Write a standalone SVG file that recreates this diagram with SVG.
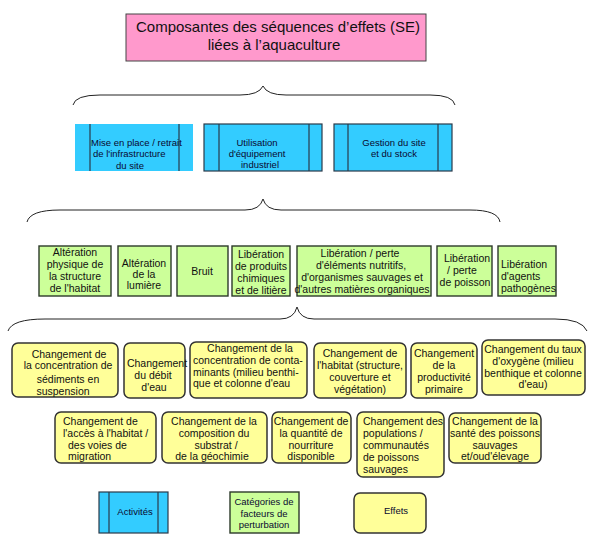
<svg xmlns="http://www.w3.org/2000/svg" width="590" height="541" viewBox="0 0 590 541">
<style>
text{font-family:"Liberation Sans",Arial,sans-serif;fill:#111}
.t{font-size:15px;text-anchor:middle}
.b{font-size:9.5px;fill:#0a0a30}
.g,.y{font-size:10.5px}
.m{text-anchor:middle}
.bb{fill:#33ccff;stroke:#2a3a4a;stroke-width:1.2}
.bl{stroke:#2a3a4a;stroke-width:1.2}
.gb{fill:#ccff99;stroke:#2d3a2a;stroke-width:1.4}
.yb{fill:#ffff99;stroke:#333;stroke-width:1.5}
.br{fill:none;stroke:#222;stroke-width:1}
</style>
<rect width="590" height="541" fill="#fff"/>

<g id="title">
<rect x="126" y="14" width="300" height="47" fill="#ff99cc" stroke="#444" stroke-width="1"/>
<text class="t" x="278" y="32">Composantes des séquences d’effets (SE)</text>
<text class="t" x="274" y="50">liées à l’aquaculture</text>
</g>

<g id="connectors">
<path class="br" d="M73,105 Q75,95 100,95 L240,95 Q259,95 263,86 Q267,95 286,95 L430,95 Q453,95 455,105"/>
<path class="br" d="M27,222 Q30,210 60,210 L245,210 Q260,210 263,199 Q266,210 281,210 L470,210 Q498,210 500,222"/>
<path class="br" d="M8,331 Q12,319 45,319 L280,319 Q294,319 297,307 Q300,319 314,319 L555,319 Q582,319 587,331"/>
</g>

<g id="act1">
<rect x="75" y="124" width="118" height="47" fill="#33ccff"/>
<line class="bl" x1="90" y1="124" x2="90" y2="171"/>
<line class="bl" x1="179" y1="124" x2="179" y2="171"/>
<text class="b" x="91" y="146">Mise en place / retrait</text>
<text class="b" x="93" y="157">de l'infrastructure</text>
<text class="b m" x="130" y="168.5">du site</text>
</g>
<g id="act2">
<rect class="bb" x="204" y="124" width="118" height="47"/>
<line class="bl" x1="219" y1="124" x2="219" y2="171"/>
<line class="bl" x1="309" y1="124" x2="309" y2="171"/>
<text class="b m" x="257" y="146">Utilisation</text>
<text class="b m" x="257" y="157">d'équipement</text>
<text class="b m" x="260" y="168">industriel</text>
</g>
<g id="act3">
<rect class="bb" x="334" y="124" width="118" height="47"/>
<line class="bl" x1="348" y1="124" x2="348" y2="171"/>
<line class="bl" x1="438" y1="124" x2="438" y2="171"/>
<text class="b m" x="394" y="146">Gestion du site</text>
<text class="b m" x="394" y="157">et du stock</text>
</g>

<g id="g1">
<rect class="gb" x="39" y="246" width="72" height="50"/>
<text class="g m" x="75" y="255.5">Altération</text>
<text class="g m" x="75" y="267.5">physique de</text>
<text class="g m" x="75" y="279.5">la structure</text>
<text class="g m" x="75" y="291.5">de l'habitat</text>
</g>
<g id="g2">
<rect class="gb" x="118" y="246" width="53" height="50"/>
<text class="g m" x="144" y="266.5">Altération</text>
<text class="g m" x="144" y="277.5">de la</text>
<text class="g m" x="144" y="289">lumière</text>
</g>
<g id="g3">
<rect class="gb" x="177" y="246" width="51" height="50"/>
<text class="g m" x="202" y="274.5">Bruit</text>
</g>
<g id="g4">
<rect class="gb" x="232" y="246" width="58" height="50"/>
<text class="g m" x="261" y="257.5">Libération</text>
<text class="g m" x="261" y="269.5">de produits</text>
<text class="g m" x="261" y="281.5">chimiques</text>
<text class="g m" x="261" y="294">et de litière</text>
</g>
<g id="g5">
<rect class="gb" x="297" y="246" width="134" height="50"/>
<text class="g m" x="360" y="256.5">Libération / perte</text>
<text class="g m" x="361" y="268.5">d'éléments nutritifs,</text>
<text class="g m" x="362" y="280.5">d'organismes sauvages et</text>
<text class="g m" x="362" y="292.5">d'autres matières organiques</text>
</g>
<g id="g6">
<rect class="gb" x="437" y="246" width="55" height="50"/>
<text class="g m" x="467" y="262">Libération</text>
<text class="g m" x="462" y="274">/ perte</text>
<text class="g m" x="465" y="286">de poisson</text>
</g>
<g id="g7">
<rect class="gb" x="498" y="246" width="58" height="50"/>
<text class="g" x="501" y="268">Libération</text>
<text class="g" x="501" y="280">d'agents</text>
<text class="g" x="501" y="292">pathogènes</text>
</g>

<g id="e1">
<rect class="yb" x="12" y="343" width="106" height="54" rx="6"/>
<text class="y m" x="69" y="358">Changement de</text>
<text class="y m" x="68" y="368.5">la concentration de</text>
<text class="y m" x="68" y="382.5">sédiments en</text>
<text class="y m" x="63" y="394.5">suspension</text>
</g>
<g id="e2">
<rect class="yb" x="124" y="343" width="61" height="55" rx="6"/>
<text class="y m" x="157" y="367">Changement</text>
<text class="y m" x="153" y="378.5">du débit</text>
<text class="y m" x="154" y="390.5">d'eau</text>
</g>
<g id="e3">
<rect class="yb" x="190" y="342" width="117" height="56" rx="6"/>
<text class="y m" x="250" y="351.5">Changement de la</text>
<text class="y" x="193" y="363.5">concentration de conta-</text>
<text class="y" x="193" y="375.5">minants (milieu benthi-</text>
<text class="y" x="193" y="387">que et colonne d'eau</text>
</g>
<g id="e4">
<rect class="yb" x="314" y="343" width="92" height="55" rx="6"/>
<text class="y m" x="360" y="357">Changement de</text>
<text class="y m" x="360" y="369">l'habitat (structure,</text>
<text class="y m" x="360" y="381">couverture et</text>
<text class="y m" x="360" y="393">végétation)</text>
</g>
<g id="e5">
<rect class="yb" x="411" y="343" width="66" height="55" rx="6"/>
<text class="y m" x="444" y="357">Changement</text>
<text class="y m" x="444" y="369">de la</text>
<text class="y m" x="444" y="381">productivité</text>
<text class="y m" x="444" y="393">primaire</text>
</g>
<g id="e6">
<rect class="yb" x="482" y="340" width="103" height="55" rx="6"/>
<text class="y m" x="533" y="353">Changement du taux</text>
<text class="y m" x="533" y="365">d'oxygène (milieu</text>
<text class="y m" x="533" y="376.5">benthique et colonne</text>
<text class="y m" x="533" y="388">d'eau)</text>
</g>

<g id="e7">
<rect class="yb" x="55" y="412" width="101" height="51" rx="6"/>
<text class="y" x="63" y="424.5">Changement de</text>
<text class="y" x="63" y="436.5">l'accès à l'habitat /</text>
<text class="y" x="68" y="448.5">des voies de</text>
<text class="y" x="68" y="460">migration</text>
</g>
<g id="e8">
<rect class="yb" x="162" y="412" width="105" height="51" rx="6"/>
<text class="y m" x="214" y="424.5">Changement de la</text>
<text class="y m" x="214" y="436.5">composition du</text>
<text class="y m" x="216" y="448.5">substrat /</text>
<text class="y m" x="212" y="460">de la géochimie</text>
</g>
<g id="e9">
<rect class="yb" x="272" y="412" width="79" height="51" rx="6"/>
<text class="y m" x="311" y="424.5">Changement de</text>
<text class="y m" x="311" y="436.5">la quantité de</text>
<text class="y m" x="311" y="448.5">nourriture</text>
<text class="y m" x="311" y="460">disponible</text>
</g>
<g id="e10">
<rect class="yb" x="357" y="412" width="87" height="65" rx="6"/>
<text class="y" x="363" y="424.5">Changement des</text>
<text class="y" x="363" y="436.5">populations /</text>
<text class="y" x="363" y="448.5">communautés</text>
<text class="y" x="363" y="460.5">de poissons</text>
<text class="y" x="363" y="473">sauvages</text>
</g>
<g id="e11">
<rect class="yb" x="449" y="413" width="92" height="50" rx="6"/>
<text class="y m" x="495" y="424.5">Changement de la</text>
<text class="y m" x="495" y="436.5">santé des poissons</text>
<text class="y m" x="495" y="448.5">sauvages</text>
<text class="y m" x="495" y="460">et/oud'élevage</text>
</g>

<g id="legend-activites">
<rect class="bb" x="99" y="492" width="69" height="41"/>
<line class="bl" x1="109" y1="492" x2="109" y2="533"/>
<line class="bl" x1="158" y1="492" x2="158" y2="533"/>
<text class="b m" x="135" y="515">Activités</text>
</g>
<g id="legend-categories">
<rect class="gb" x="230" y="492" width="69" height="41"/>
<text class="b m" x="264" y="504.5">Catégories de</text>
<text class="b m" x="264" y="516.5">facteurs de</text>
<text class="b m" x="264" y="528">perturbation</text>
</g>
<g id="legend-effets">
<rect class="yb" x="354" y="493" width="72" height="40" rx="6"/>
<text class="b m" x="396" y="514">Effets</text>
</g>
</svg>
